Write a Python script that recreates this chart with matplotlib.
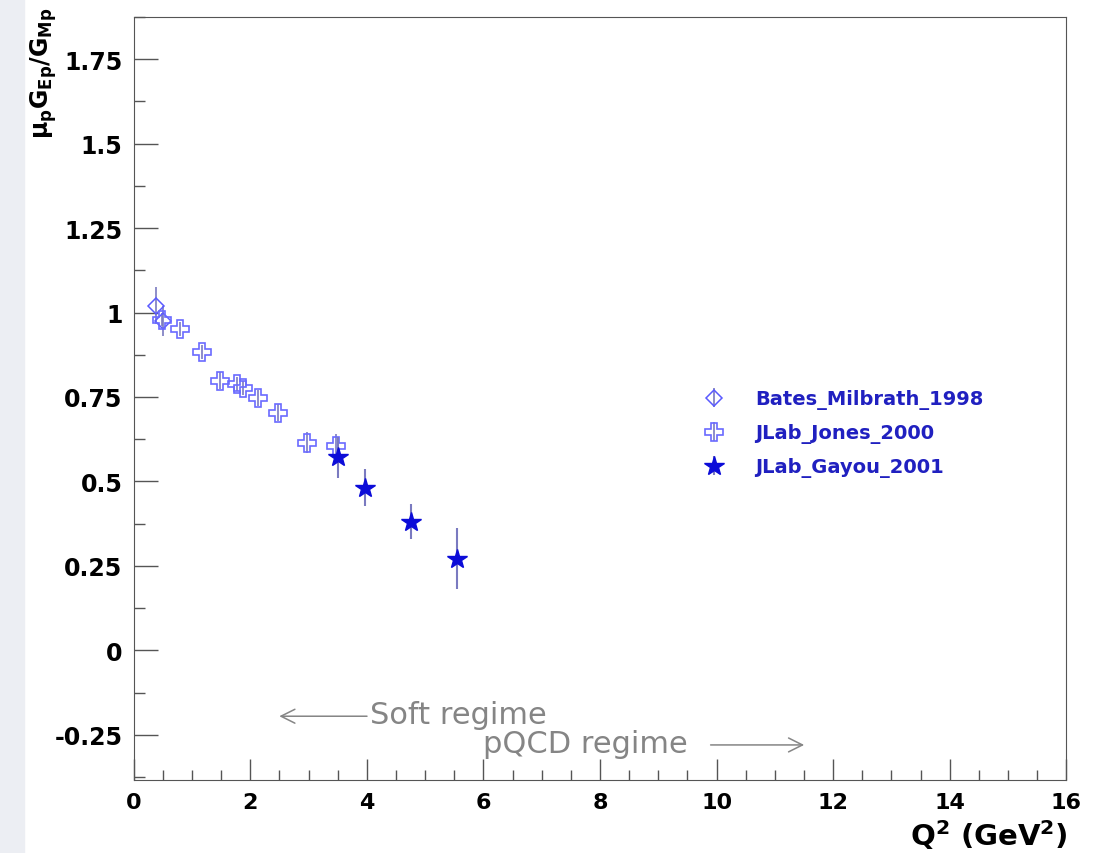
import matplotlib
matplotlib.use("Agg")
import matplotlib.pyplot as plt
from matplotlib.patches import Rectangle

# data
bates_q2 = [0.38, 0.50]
bates_r = [1.02, 0.975]
bates_err = [0.055, 0.045]

jones_q2 = [0.49, 0.79, 1.18, 1.48, 1.77, 1.88, 2.13, 2.47, 2.97, 3.47]
jones_r = [0.979, 0.951, 0.883, 0.798, 0.789, 0.777, 0.747, 0.703, 0.615, 0.606]
jones_err = [0.02, 0.02, 0.02, 0.025, 0.02, 0.02, 0.025, 0.025, 0.03, 0.035]

gayou_q2 = [3.50, 3.97, 4.75, 5.54]
gayou_r = [0.571, 0.482, 0.381, 0.271]
gayou_err = [0.062, 0.055, 0.052, 0.09]

ytick_vals = [-0.25, 0, 0.25, 0.5, 0.75, 1, 1.25, 1.5, 1.75]
ytick_labels = ['-0.25', '0', '0.25', '0.5', '0.75', '1', '1.25', '1.5', '1.75']

plt.rcParams['font.family'] = ['DejaVu Sans']
plt.rcParams['mathtext.fontset'] = 'custom'
plt.rcParams['mathtext.rm'] = 'DejaVu Sans:bold'
plt.rcParams['mathtext.it'] = 'DejaVu Sans:bold'
plt.rcParams['mathtext.bf'] = 'DejaVu Sans:bold'
plt.rcParams['mathtext.default'] = 'bf'

fig = plt.figure(figsize=(11.05, 8.54), dpi=100)
fig.patches.append(Rectangle((0, 0), 0.022, 1, transform=fig.transFigure,
                             color='#eceef3', zorder=0))
ax = fig.add_axes([0.121, 0.085, 0.844, 0.894])

ax.errorbar(bates_q2, bates_r, yerr=bates_err, fmt='D', ms=8, mfc='none',
            mec='#5a5aff', mew=1.1, ecolor='#7a7ac0', elinewidth=1.2,
            label='Bates_Milbrath_1998', zorder=3)
ax.errorbar(jones_q2, jones_r, yerr=jones_err, fmt='P', ms=13, mfc='none',
            mec='#6a6aff', mew=1.2, ecolor='#7a7ac0', elinewidth=1.2,
            label='JLab_Jones_2000', zorder=3)
ax.errorbar(gayou_q2, gayou_r, yerr=gayou_err, fmt='*', ms=15, mfc='#0c0cd8',
            mec='#0c0cd8', ecolor='#7a7ac0', elinewidth=1.5,
            label='JLab_Gayou_2001', zorder=4)

ax.set_xlim(0, 16)
ax.set_ylim(-0.385, 1.875)
ax.set_xticks(range(0, 17, 2))
ax.set_xticks([x * 0.5 for x in range(33)], minor=True)
ax.set_yticks(ytick_vals)
ax.set_yticklabels(ytick_labels)
ax.set_yticks([-0.375 + 0.125 * i for i in range(19)], minor=True)
ax.tick_params(which='both', direction='in', colors='#555555',
               labelcolor='black', pad=8)
ax.tick_params(axis='x', labelsize=16)
ax.tick_params(axis='y', labelsize=17)
ax.tick_params(which='major', length=17, width=1)
ax.tick_params(which='minor', length=8, width=1)
ax.tick_params(axis='x', which='major', length=15)
ax.tick_params(axis='x', which='minor', length=7)
for lbl in ax.get_xticklabels() + ax.get_yticklabels():
    lbl.set_fontweight('bold')
for s in ax.spines.values():
    s.set_color('#555555')

fig.text(0.966, 0.002, 'Q$^2$ (GeV$^2$)', ha='right', va='bottom',
         fontsize=21, fontweight='bold')
fig.text(44 / 1105, 1 - 8 / 854, r'$\mathbf{\mu_p G_{Ep}/G_{Mp}}$',
         rotation=90, ha='center', va='top', fontsize=17)

ax.legend(loc='upper left', bbox_to_anchor=(0.583, 0.535), frameon=False,
          labelcolor='#2020c0', prop={'weight': 'bold', 'size': 14},
          handletextpad=1.1, labelspacing=0.72, markerscale=1.0)

gray = '#858585'
ax.annotate('', xy=(2.45, -0.195), xytext=(4.05, -0.195),
            arrowprops=dict(arrowstyle='->', color=gray, lw=1.1,
                            mutation_scale=25))
ax.text(4.05, -0.19, 'Soft regime', fontsize=22, color=gray, va='center',
        ha='left')
ax.text(6.0, -0.275, 'pQCD regime', fontsize=22, color=gray, va='center',
        ha='left')
ax.annotate('', xy=(11.55, -0.28), xytext=(9.85, -0.28),
            arrowprops=dict(arrowstyle='->', color=gray, lw=1.1,
                            mutation_scale=25))

fig.savefig('out.png', dpi=100)
